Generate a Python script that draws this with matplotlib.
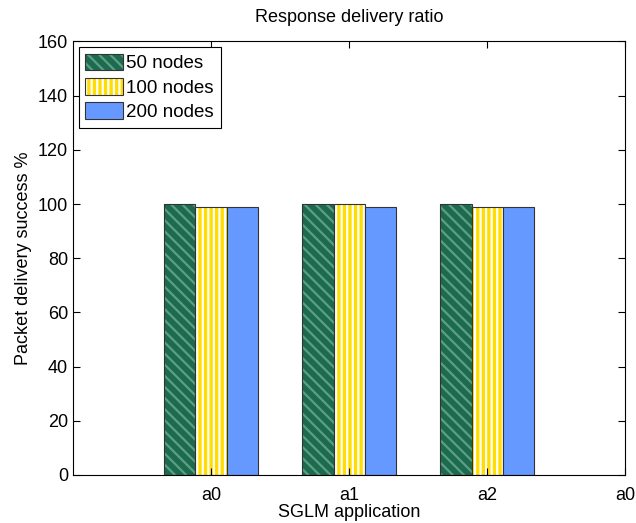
import numpy as np
import matplotlib.pyplot as plt
from matplotlib.legend_handler import HandlerPatch

plt.rcParams['font.family'] = ['Liberation Sans', 'DejaVu Sans']
plt.rcParams['hatch.linewidth'] = 1.6

apps = ["a0", "a1", "a2"]
tick_labels = ["a0", "a1", "a2", "a0"]
series = ["50 nodes", "100 nodes", "200 nodes"]
n50 = [100, 100, 100]
n100 = [99, 100, 99]
n200 = [99, 99, 99]

faces = ["#1c6b4e", "#ffdd00", "#6699ff"]
hatch_cols = ["#5e9e86", "#ffffff", None]
hatches = ["\\\\\\", "|||", None]


class OutlinedHandler(HandlerPatch):
    # draw the hatch patch, then a thin dark outline on top
    def create_artists(self, legend, orig_handle, xdescent, ydescent,
                       width, height, fontsize, trans):
        arts = super().create_artists(legend, orig_handle, xdescent, ydescent,
                                      width, height, fontsize, trans)
        r = plt.Rectangle((-xdescent, -ydescent), width, height, fill=False,
                          edgecolor="#333333", linewidth=0.8, transform=trans)
        return arts + [r]


fig = plt.figure(figsize=(6.36, 5.23), dpi=100)
ax = fig.add_axes([0.1148, 0.0918, 0.868, 0.829])

x = np.arange(1, len(apps) + 1)
w = 0.225
handles = []
for i, vals in enumerate([n50, n100, n200]):
    pos = x + (i - 1) * w
    if hatches[i]:
        ax.bar(pos, vals, w, color=faces[i], edgecolor=hatch_cols[i],
               hatch=hatches[i], linewidth=0)
    else:
        ax.bar(pos, vals, w, color=faces[i], linewidth=0)
    ax.bar(pos, vals, w, fill=False, edgecolor="#333333", linewidth=0.8)
    h = plt.Rectangle((0, 0), 1, 1, facecolor=faces[i],
                      edgecolor=hatch_cols[i] if hatches[i] else faces[i],
                      hatch=hatches[i], linewidth=0)
    handles.append(h)

leg = ax.legend(handles, series, loc="upper left", fontsize=13.5,
                fancybox=False, framealpha=1, edgecolor="black",
                handlelength=2.0, handleheight=1.0, handletextpad=0.2,
                borderpad=0.35, labelspacing=0.3, borderaxespad=0.3,
                handler_map={plt.Rectangle: OutlinedHandler()})
leg.get_frame().set_linewidth(0.8)

ax.set_xlim(0, 4)
ax.set_ylim(0, 160)
ax.set_xticks([1, 2, 3, 4])
ax.set_xticklabels(tick_labels)
ax.set_yticks(range(0, 161, 20))
ax.tick_params(direction="in", top=True, right=True, labelsize=13, length=5)
ax.tick_params(axis="x", pad=9)
ax.set_xlabel("SGLM application", fontsize=13, labelpad=0)
ax.set_ylabel("Packet delivery success %", fontsize=13)
ax.set_title("Response delivery ratio", fontsize=13, pad=14)

fig.savefig("out.png", dpi=100)
